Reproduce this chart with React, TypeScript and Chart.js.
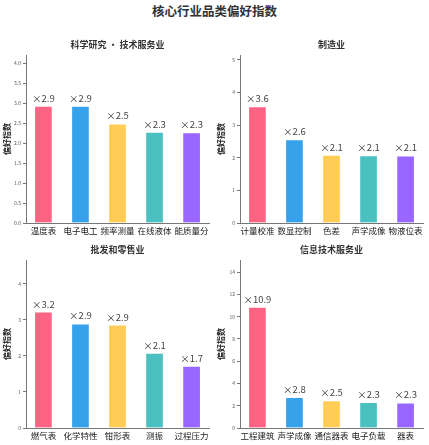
import React, { useEffect, useRef } from "react";
import { Chart, registerables } from "chart.js";
Chart.register(...registerables);

const MAIN_TITLE = "核心行业品类偏好指数";
const Y_TITLE = "偏好指数";
const COLORS = ["#FF6384", "#36A2EB", "#FFCD56", "#4BC0C0", "#9966FF"];

const TITLE_SCI = "科学研究 · 技术服务业";
const CATS_SCI = ["温度表", "电子电工", "频率测量", "在线液体", "能质量分"];
const VALS_SCI = [2.92, 2.92, 2.48, 2.27, 2.26];
const YMAX_SCI = 4.2;
const STEP_SCI = 0.5;

const TITLE_MFG = "制造业";
const CATS_MFG = ["计量校准", "数显控制", "色差", "声学成像", "物液位表"];
const VALS_MFG = [3.57, 2.56, 2.08, 2.07, 2.06];
const YMAX_MFG = 5.15;
const STEP_MFG = 1;

const TITLE_RET = "批发和零售业";
const CATS_RET = ["燃气表", "化学特性", "钳形表", "测振", "过程压力"];
const VALS_RET = [3.22, 2.89, 2.86, 2.08, 1.72];
const YMAX_RET = 4.66;
const STEP_RET = 1;

const TITLE_IT = "信息技术服务业";
const CATS_IT = ["工程建筑", "声学成像", "通信器表", "电子负载", "器表"];
const VALS_IT = [10.87, 2.76, 2.46, 2.3, 2.26];
const YMAX_IT = 15.1;
const STEP_IT = 2;

const FONT = "'Noto Sans CJK SC', 'Noto Sans', sans-serif";

type PanelProps = {
  title: string;
  cats: string[];
  vals: number[];
  ymax: number;
  step: number;
  left: number;
  top: number;
};

const panelTitlePlugin = {
  id: "panelTitle",
  afterDraw(chart: any, _args: any, opts: any) {
    const { ctx, chartArea } = chart;
    ctx.save();
    ctx.font = `bold 9px ${FONT}`;
    ctx.fillStyle = "#333";
    ctx.textAlign = "center";
    ctx.textBaseline = "middle";
    ctx.fillText(opts.text, (chartArea.left + chartArea.right) / 2, 13);
    ctx.restore();
  },
};

const barLabelPlugin = {
  id: "barLabel",
  afterDatasetsDraw(chart: any) {
    const { ctx } = chart;
    const meta = chart.getDatasetMeta(0);
    const data = chart.data.datasets[0].data as any[];
    ctx.save();
    ctx.font = `9.5px ${FONT}`;
    ctx.fillStyle = "#444";
    ctx.textAlign = "center";
    ctx.textBaseline = "middle";
    meta.data.forEach((el: any, i: number) => {
      ctx.fillText(`×${data[i].y.toFixed(1)}`, el.x, el.y - 8);
    });
    ctx.restore();
  },
};

function Panel({ title, cats, vals, ymax, step, left, top }: PanelProps) {
  const ref = useRef<HTMLCanvasElement>(null);
  useEffect(() => {
    if (!ref.current) return;
    const chart = new Chart(ref.current, {
      type: "bar",
      data: {
        datasets: [
          {
            data: vals.map((v, i) => ({ x: i, y: v })),
            backgroundColor: COLORS,
            borderColor: "rgba(255,255,255,0.55)",
            borderWidth: 1,
            barThickness: 18,
          },
        ],
      },
      options: {
        animation: false,
        responsive: true,
        maintainAspectRatio: false,
        layout: { padding: { top: 23, right: 5, left: 0, bottom: 0 } },
        plugins: {
          legend: { display: false },
          tooltip: { enabled: false },
          panelTitle: { text: title },
        } as any,
        scales: {
          x: {
            type: "linear",
            offset: false,
            min: -0.47,
            max: cats.length - 1 + 0.47,
            afterBuildTicks: (s: any) => {
              s.ticks = cats.map((_, i) => ({ value: i }));
            },
            afterFit: (s: any) => {
              s.height = 14;
              s.paddingLeft = 0;
              s.paddingRight = 0;
            },
            ticks: {
              autoSkip: false,
              maxRotation: 0,
              minRotation: 0,
              padding: 3,
              color: "#1a1a1a",
              font: { family: FONT, size: 8.5 },
              callback: (v: any) => cats[Math.round(v)] ?? "",
            },
            grid: { display: false, drawTicks: false },
            border: { display: true, color: "#777", width: 1 },
          },
          y: {
            min: 0,
            max: ymax,
            afterFit: (s: any) => {
              s.width = 26;
              s.paddingTop = 0;
              s.paddingBottom = 0;
            },
            ticks: {
              stepSize: step,
              includeBounds: false,
              padding: 2,
              color: "#555",
              font: { family: FONT, size: 5 },
              callback: (v: any) => (step < 1 ? Number(v).toFixed(1) : String(v)),
            },
            grid: {
              drawOnChartArea: false,
              drawTicks: true,
              tickLength: 3,
              color: "#777",
            },
            border: { display: true, color: "#777", width: 1 },
            title: {
              display: true,
              text: Y_TITLE,
              color: "#222",
              font: { family: FONT, size: 8, weight: "bold" },
              padding: { top: 2, bottom: 0 },
            },
          },
        },
      } as any,
      plugins: [panelTitlePlugin, barLabelPlugin],
    });
    return () => chart.destroy();
  }, []);
  return (
    <div style={{ position: "absolute", left, top, width: 214, height: 205 }}>
      <canvas ref={ref} />
    </div>
  );
}

export default function App() {
  return (
    <div
      style={{
        position: "fixed",
        left: 0,
        top: 0,
        width: 429,
        height: 445,
        background: "#fff",
        fontFamily: FONT,
      }}
    >
      <div
        style={{
          position: "absolute",
          left: 0,
          top: 0,
          width: 429,
          height: 21,
          lineHeight: "21px",
          textAlign: "center",
          fontSize: 12.5,
          fontWeight: 600,
          color: "#333",
        }}
      >
        {MAIN_TITLE}
      </div>
      <Panel title={TITLE_SCI} cats={CATS_SCI} vals={VALS_SCI} ymax={YMAX_SCI} step={STEP_SCI} left={0} top={32} />
      <Panel title={TITLE_MFG} cats={CATS_MFG} vals={VALS_MFG} ymax={YMAX_MFG} step={STEP_MFG} left={214} top={32} />
      <Panel title={TITLE_RET} cats={CATS_RET} vals={VALS_RET} ymax={YMAX_RET} step={STEP_RET} left={0} top={237} />
      <Panel title={TITLE_IT} cats={CATS_IT} vals={VALS_IT} ymax={YMAX_IT} step={STEP_IT} left={214} top={237} />
    </div>
  );
}
